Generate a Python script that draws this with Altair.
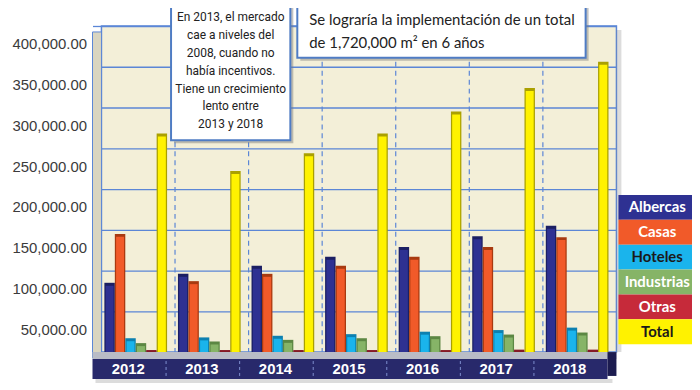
import altair as alt
import pandas as pd

years = ["2012", "2013", "2014", "2015", "2016", "2017", "2018"]
series = ["Albercas", "Casas", "Hoteles", "Industrias", "Otras", "Total"]

albercas = [85000, 96000, 106000, 117000, 129000, 142000, 155000]
casas = [145000, 87000, 96000, 106000, 117000, 129000, 141000]
hoteles = [17000, 18000, 20000, 22000, 25000, 27000, 30000]
industrias = [11000, 13000, 15000, 17000, 19500, 21500, 24000]
otras = [2500, 2500, 2500, 2500, 2500, 3000, 3000]
total = [268000, 222000, 244000, 268000, 295000, 324000, 356000]

y_ticks = [50000, 100000, 150000, 200000, 250000, 300000, 350000, 400000]

note_left = ["En 2013, el mercado", "cae a niveles del", "2008, cuando no",
             "había incentivos.", "Tiene un crecimiento", "lento entre", "2013 y 2018"]
note_right = ["Se lograría la implementación de un total", "de 1,720,000 m² en 6 años"]

front_colors = ["#2e3192", "#f15a29", "#1ab4ec", "#86b467", "#c62a3a", "#fff200"]
side_colors = ["#1b1f63", "#a83a10", "#0c80b0", "#5c8743", "#851a26", "#aaa000"]
legend_colors = ["#2e3192", "#f15a29", "#1ab4ec", "#86b467", "#c62a3a", "#fff200"]

BLUE = "#5b86d6"
NAVY = "#28296b"

values = {"Albercas": albercas, "Casas": casas, "Hoteles": hoteles,
          "Industrias": industrias, "Otras": otras, "Total": total}
df = pd.DataFrame([{"year": y, "series": s, "value": values[s][i]}
                   for s in series for i, y in enumerate(years)])
df_years = pd.DataFrame({"year": years})
df_sep = pd.DataFrame({"year": years[1:]})
df_leg = pd.DataFrame({"series": series})
one = pd.DataFrame({"a": [0]})

W, H = 518, 328

xenc = alt.X("year:N", sort=years, scale=alt.Scale(domain=years, paddingInner=0, paddingOuter=0), axis=None)
xoff = alt.XOffset("series:N", sort=series,
                   scale=alt.Scale(domain=series, paddingInner=0, paddingOuter=0.52, align=0.27))
yaxis = alt.Axis(values=y_ticks, format=",.2f", title=None, domain=False,
                 grid=True, gridColor=BLUE, gridWidth=1.3,
                 tickColor=BLUE, tickSize=9, tickWidth=1.3,
                 labelOffset=18, labelPadding=6, labelFont="Liberation Sans",
                 labelFontSize=15, labelColor="#3b3b3b")
yscale = alt.Scale(domain=[0, 400000], nice=False, zero=True)

# decorations
plot_shadow = alt.Chart(one).mark_rect(fill="#8a8a8a", opacity=0.3).encode(
    x=alt.value(W), x2=alt.value(W + 5), y=alt.value(4), y2=alt.value(H))
left_wall = alt.Chart(one).mark_rect(fill="#d9d5c0", stroke=BLUE, strokeWidth=1).encode(
    x=alt.value(-9), x2=alt.value(0), y=alt.value(6), y2=alt.value(334))
floor = alt.Chart(one).mark_rect(fill="#b9bcc6").encode(
    x=alt.value(-9), x2=alt.value(W), y=alt.value(H), y2=alt.value(H + 7))
band = alt.Chart(one).mark_rect(fill=NAVY).encode(
    x=alt.value(-9), x2=alt.value(W - 9), y=alt.value(H + 7), y2=alt.value(H + 27))
band_cap = alt.Chart(one).mark_rect(fill="#1c1c50").encode(
    x=alt.value(W - 9), x2=alt.value(W), y=alt.value(H), y2=alt.value(H + 24))
band_shadow = alt.Chart(one).mark_rect(fill="#9a9a9a", opacity=0.35).encode(
    x=alt.value(-6), x2=alt.value(W - 4), y=alt.value(H + 27), y2=alt.value(H + 31))

vsep = alt.Chart(df_sep).mark_rule(color=BLUE, strokeDash=[5, 4], strokeWidth=1.2).encode(
    x=alt.X("year:N", sort=years, bandPosition=0,
            scale=alt.Scale(domain=years, paddingInner=0, paddingOuter=0), axis=None))
band_sep = alt.Chart(df_sep).mark_rule(color="#7f8fd0", strokeDash=[3, 3], strokeWidth=1, xOffset=-9).encode(
    x=alt.X("year:N", sort=years, bandPosition=0,
            scale=alt.Scale(domain=years, paddingInner=0, paddingOuter=0), axis=None),
    y=alt.value(H + 9), y2=alt.value(H + 26))

side = alt.Chart(df).mark_bar().encode(
    x=xenc, xOffset=xoff,
    y=alt.Y("value:Q", scale=yscale, axis=yaxis),
    color=alt.Color("series:N", sort=series, scale=alt.Scale(domain=series, range=side_colors), legend=None))
front = alt.Chart(df).mark_bar(width=8, xOffset=-1.3, yOffset=3).encode(
    x=xenc, xOffset=xoff,
    y=alt.Y("value:Q", scale=yscale, axis=yaxis),
    color=alt.Color("series:N", sort=series, scale=alt.Scale(domain=series, range=front_colors), legend=None))

year_text = alt.Chart(df_years).mark_text(font="Liberation Sans", fontWeight="bold", fontSize=15,
                                          color="white", xOffset=-10, baseline="middle").encode(
    x=xenc, y=alt.value(H + 17), text="year:N")

# annotation boxes
def box(x0, x1, y0, y1):
    sh = alt.Chart(one).mark_rect(fill="#7a7a7a", opacity=0.45).encode(
        x=alt.value(x0 + 3), x2=alt.value(x1 + 3), y=alt.value(y0 + 3), y2=alt.value(y1 + 3))
    bx = alt.Chart(one).mark_rect(fill="white", stroke="#4f7cc4", strokeWidth=2).encode(
        x=alt.value(x0), x2=alt.value(x1), y=alt.value(y0), y2=alt.value(y1))
    return [sh, bx]

box1 = box(70, 190, -22, 115)
box2 = box(197, 487, -22, 32)
t1 = alt.Chart(one).mark_text(font="Roboto", fontSize=12, lineHeight=18, align="center", baseline="top",
                              color="#222222", text=note_left).encode(
    x=alt.value(130), y=alt.value(-14))
t2a = alt.Chart(one).mark_text(font="Lato", fontSize=15, align="left", baseline="middle",
                               color="#222222", text=note_right[0]).encode(
    x=alt.value(209), y=alt.value(-6))
t2b = alt.Chart(one).mark_text(font="Lato", fontSize=15, align="left", baseline="middle",
                               color="#222222", text=note_right[1]).encode(
    x=alt.value(209), y=alt.value(17))

main = alt.layer(plot_shadow, left_wall, vsep, side, front, floor, band_shadow, band, band_cap, band_sep,
                 year_text, *box1, *box2, t1, t2a, t2b).resolve_scale(color="independent")

# legend
ly = alt.Y("series:N", sort=series,
           scale=alt.Scale(domain=series, range=[170, 320], paddingInner=0, paddingOuter=0), axis=None)
leg_rect = alt.Chart(df_leg).mark_rect().encode(
    x=alt.value(520), x2=alt.value(600), y=ly,
    color=alt.Color("series:N", sort=series, scale=alt.Scale(domain=series, range=legend_colors), legend=None))
leg_text = alt.Chart(df_leg).mark_text(font="Lato", fontWeight="bold", fontSize=15, align="center",
                                       baseline="middle").encode(
    x=alt.value(559), y=ly, text="series:N",
    color=alt.condition(alt.FieldOneOfPredicate(field="series", oneOf=["Hoteles", "Total"]),
                        alt.value("#1a1a1a"), alt.value("white")))
legend = alt.layer(leg_rect, leg_text)

chart = alt.layer(main, legend).resolve_scale(y="independent", color="independent").properties(
    width=W, height=H,
    padding={"left": 94, "top": 17, "right": 76, "bottom": 30},
    autosize=alt.AutoSizeParams(type="none"),
    background="white",
).configure_view(fill="#f3efd8", stroke=BLUE, strokeWidth=1.5)

chart.save("out.html", embed_options={"renderer": "svg", "actions": False})
